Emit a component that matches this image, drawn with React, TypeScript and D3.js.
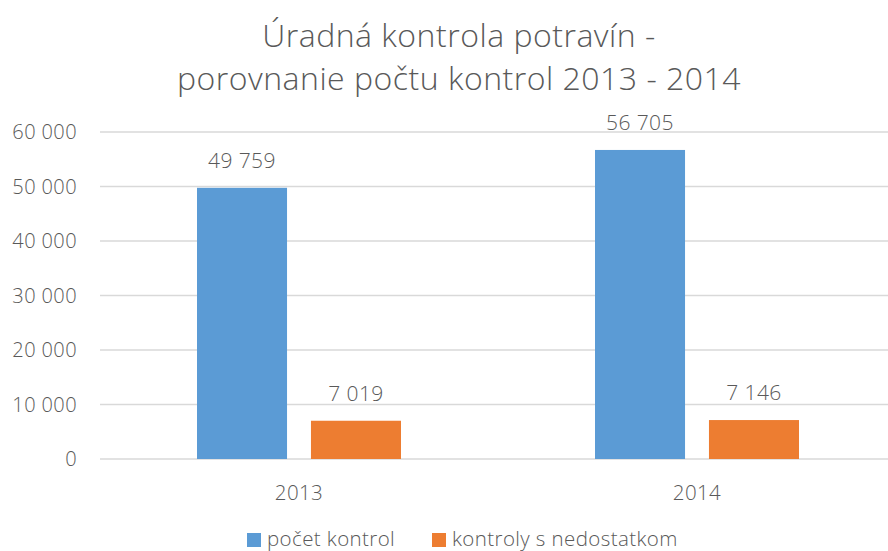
import React from "react";
import * as d3 from "d3";

const categories = ["2013", "2014"];
const seriesNames = ["počet kontrol", "kontroly s nedostatkom"];
const pocetKontrol = [49759, 56705];
const kontrolySNedostatkom = [7019, 7146];
const yTicks = [0, 10000, 20000, 30000, 40000, 50000, 60000];
const titleLines = ["Úradná kontrola potravín -", "porovnanie počtu kontrol 2013 - 2014"];
const colors = ["#5B9BD5", "#ED7D31"];

const W = 888;
const H = 551;
const FONT = "'Open Sans', 'Segoe UI', sans-serif";
const TEXT = "#595959";

const fmt = (v: number) => d3.format(",")(v).replace(/,/g, " ");

export default function App() {
  const y = d3.scaleLinear().domain([0, 60000]).range([459, 132]);
  const x0 = d3.scaleBand<string>().domain(categories).range([100, 896]);
  const x1 = d3.scaleBand<string>().domain(seriesNames).range([-102, 102]).paddingInner(0.21);
  const series = [pocetKontrol, kontrolySNedostatkom];

  return (
    <svg width={W} height={H} style={{ position: "absolute", left: 0, top: 0, background: "#fff" }}>
      <rect width={W} height={H} fill="#fff" />
      {titleLines.map((t, i) => (
        <text key={t} x={459} y={47 + i * 43} textAnchor="middle" fontFamily={FONT} fontWeight={300} fontSize={32} letterSpacing={0.5} fill={TEXT}>
          {t}
        </text>
      ))}
      {yTicks.map((t) => (
        <g key={t}>
          <line x1={100} x2={W} y1={y(t)} y2={y(t)} stroke="#d9d9d9" strokeWidth={1.3} />
          <text x={77} y={y(t)} dy="0.35em" textAnchor="end" fontFamily={FONT} fontWeight={300} fontSize={20} letterSpacing={0.4} fill={TEXT}>
            {fmt(t)}
          </text>
        </g>
      ))}
      {categories.map((c, ci) => {
        const cx = (x0(c) as number) + x0.bandwidth() / 2;
        return (
          <g key={c}>
            {seriesNames.map((s, si) => {
              const v = series[si][ci];
              const bx = cx + (x1(s) as number);
              return (
                <g key={s}>
                  <rect x={bx} y={y(v)} width={x1.bandwidth()} height={y(0) - y(v)} fill={colors[si]} />
                  <text x={bx + x1.bandwidth() / 2} y={y(v) - 20} textAnchor="middle" fontFamily={FONT} fontWeight={300} fontSize={21} letterSpacing={0.4} fill={TEXT}>
                    {fmt(v)}
                  </text>
                </g>
              );
            })}
            <text x={cx} y={500} textAnchor="middle" fontFamily={FONT} fontWeight={300} fontSize={20.5} letterSpacing={0.4} fill={TEXT}>
              {c}
            </text>
          </g>
        );
      })}
      {seriesNames.map((s, si) => {
        const lx = [247, 432][si];
        return (
          <g key={s}>
            <rect x={lx} y={533} width={14} height={14} fill={colors[si]} />
            <text x={lx + 20} y={545.5} fontFamily={FONT} fontWeight={300} fontSize={20.5} letterSpacing={0.4} fill={TEXT}>
              {s}
            </text>
          </g>
        );
      })}
    </svg>
  );
}
